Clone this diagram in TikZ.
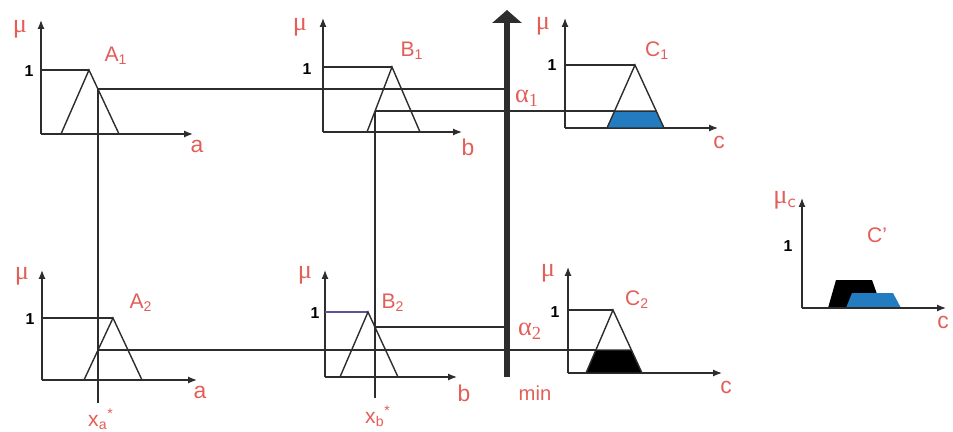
\documentclass[tikz,border=0pt]{standalone}
\usepackage{fontspec}
\setmainfont{Liberation Sans}
\newfontfamily\grk{Liberation Serif}
\usetikzlibrary{arrows.meta}
\definecolor{labred}{RGB}{226,94,88}
\definecolor{linegray}{RGB}{45,45,45}
\definecolor{cutblue}{RGB}{36,124,192}
\definecolor{oneblue}{RGB}{92,84,150}

\begin{document}
\begin{tikzpicture}[x=0.02cm,y=-0.02cm,
  axis/.style={-{Latex[length=1.8mm,width=1.4mm]},line width=0.7pt,linegray},
  memb/.style={line width=0.8pt,linegray},
  lab/.style={text=labred,font=\fontsize{12}{14}\selectfont,inner sep=0pt},
  grklab/.style={lab,font=\grk\fontsize{15}{16}\selectfont},
  var/.style={text=labred,font=\fontsize{13}{15}\selectfont,inner sep=0pt},
  one/.style={font=\bfseries\fontsize{9}{10}\selectfont,inner sep=0pt}
]
\useasboundingbox (0,0) rectangle (953,432);
\clip (0,0) rectangle (953,432);

% points where the crisp inputs cut the sets
\coordinate (lvA1) at (98,89.2);
\coordinate (lvA2) at (98,350);
\coordinate (lvB1) at (375,111.2);
\coordinate (lvB2) at (375,327.2);
\coordinate (xaEnd) at (98,403);
\coordinate (xbEnd) at (375,398);
\coordinate (minBot) at (507,377);
\coordinate (minTop) at (507,10);
\coordinate (cutC1) at (614.5,111.2);
\coordinate (cutC2) at (595.9,350);

% rule 1
\draw[axis] (41,134) -- (41,20);
\draw[axis] (41,134) -- (193,134);
\draw[memb] (41,70) -- (89,70);
\draw[memb] (61,134) -- (89,70) -- (119,134);
\draw[axis] (323,132) -- (323,18);
\draw[axis] (323,132) -- (462,132);
\draw[memb] (323,67) -- (392,67);
\draw[memb] (367,132) -- (392,67) -- (420,132);
\draw[axis] (565,128) -- (565,18);
\draw[axis] (565,128) -- (718,128);
\draw[memb] (565,65) -- (635,65);
\draw[memb,fill=cutblue] (607,128) -- (cutC1) -- (656.3,111.2) -- (664,128) -- cycle;
\draw[memb] (cutC1) -- (635,65) -- (656.3,111.2);

% rule 2
\draw[axis] (42,380) -- (42,270);
\draw[axis] (42,380) -- (197,380);
\draw[memb] (42,318) -- (113,318);
\draw[memb] (84,380) -- (113,318) -- (142,380);
\draw[axis] (325,377) -- (325,270);
\draw[axis] (325,377) -- (457,377);
\draw[memb,oneblue] (325,312) -- (368,312);
\draw[memb] (340,377) -- (368,312) -- (398,377);
\draw[axis] (568,373) -- (568,267);
\draw[axis] (568,373) -- (722,373);
\draw[memb] (568,310) -- (613,310);
\draw[memb,fill=black] (586,373) -- (cutC2) -- (631.4,350) -- (642,373) -- cycle;
\draw[memb] (cutC2) -- (613,310) -- (631.4,350);

% crisp inputs and levels
\draw[memb] (lvA1) -- (xaEnd);
\draw[memb] (lvB1) -- (xbEnd);
\draw[memb] (lvA1) -- (lvA1 -| minBot);
\draw[memb] (lvB1) -- (cutC1);
\draw[memb] (lvB2) -- (lvB2 -| minBot);
\draw[memb] (lvA2) -- (cutC2);
\draw[-{Triangle[length=2.6mm,width=5.8mm]},line width=3.4pt,linegray] (minBot) -- (minTop);

% aggregated output
\fill[black] (828,308) -- (836,280) -- (872,280) -- (882,308) -- cycle;
\fill[cutblue] (846,308) -- (852,293) -- (893,293) -- (901,308) -- cycle;
\draw[axis] (802,308) -- (802,198);
\draw[axis] (802,308) -- (946,308);

% labels
\node[grklab] (muA1) at (20,29) {μ};
\node[grklab] (muB1) at (300,27) {μ};
\node[grklab] (muC1) at (543,26) {μ};
\node[grklab] (muA2) at (22,276) {μ};
\node[grklab] (muB2) at (305,275) {μ};
\node[grklab] (muC2) at (548,273) {μ};
\node[grklab] (muC) at (785,200) {μ\textsubscript{\sffamily c}};
\node[one] (oneA1) at (29,71) {1};
\node[one] (oneB1) at (307,69) {1};
\node[one] (oneC1) at (552,65) {1};
\node[one] (oneA2) at (30,319) {1};
\node[one] (oneB2) at (315,313) {1};
\node[one] (oneC2) at (555,312) {1};
\node[one] (oneC) at (788,246) {1};
\node[lab] (nameA1) at (116,56) {A\textsubscript{1}};
\node[lab] (nameB1) at (412,51) {B\textsubscript{1}};
\node[lab] (nameC1) at (657,51) {C\textsubscript{1}};
\node[lab] (nameA2) at (141,303) {A\textsubscript{2}};
\node[lab] (nameB2) at (393,303) {B\textsubscript{2}};
\node[lab] (nameC2) at (637,300) {C\textsubscript{2}};
\node[lab] (nameC) at (877,235) {C'};
\node[var] (varA1) at (197,146) {a};
\node[var] (varB1) at (468,147) {b};
\node[var] (varC1) at (719,142) {c};
\node[var] (varA2) at (200,392) {a};
\node[var] (varB2) at (464,393) {b};
\node[var] (varC2) at (726,387) {c};
\node[var] (varC) at (943,322) {c};
\node[lab,font=\fontsize{11.5}{13}\selectfont] (minlab) at (535,393) {min};
\node[grklab] (alpha1) at (527,98) {α\textsubscript{1}};
\node[grklab] (alpha2) at (530,331) {α\textsubscript{2}};
\node[lab] (xa) at (101,419) {x\textsubscript{a}\textsuperscript{*}};
\node[lab] (xb) at (378,416) {x\textsubscript{b}\textsuperscript{*}};
\end{tikzpicture}
\end{document}
